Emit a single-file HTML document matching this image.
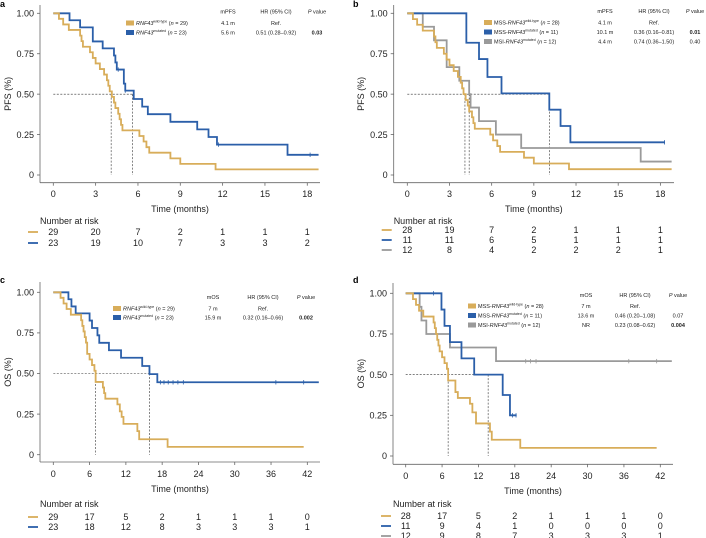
<!DOCTYPE html>
<html><head><meta charset="utf-8"><style>
html,body{margin:0;padding:0;background:#fff;}
svg{display:block;font-family:"Liberation Sans",sans-serif;}
</style></head><body>
<svg id="fig" width="706" height="538" viewBox="0 0 706 538" xmlns="http://www.w3.org/2000/svg"></svg>
<script>
// ---------- DATA ----------
const xTicksPFS = [0,3,6,9,12,15,18];
const xTicksOS = [0,6,12,18,24,30,36,42];
const yTicks = [0,0.25,0.5,0.75,1];
const yTickLabels = ["0","0.25","0.50","0.75","1.00"];

// Panel a
const aWtT = [0.4,0.7,1.1,1.9,2.0,2.1,2.6,2.8,3.0,3.3,3.6,3.8,3.9,4.0,4.15,4.3,4.4,4.6,4.7,4.8,4.9,6.1,6.4,6.6,6.8,8.3,9.0,11.5];
const aWtS = [0.966,0.931,0.897,0.862,0.828,0.793,0.759,0.724,0.690,0.655,0.621,0.586,0.552,0.517,0.483,0.448,0.414,0.379,0.345,0.310,0.276,0.241,0.207,0.172,0.138,0.103,0.069,0.035];
const aMutT = [1.15,1.9,2.8,3.5,4.3,4.4,4.5,5.0,5.1,5.7,6.3,6.7,8.3,10.2,11.0,11.6,16.6];
const aMutS = [0.957,0.913,0.826,0.783,0.739,0.696,0.652,0.565,0.522,0.470,0.423,0.376,0.329,0.282,0.235,0.188,0.125];
const aMutCens = [4.6,5.1,11.7,18.2];
const aMedians = [4.1,5.6];
const aRiskWt = [29,20,7,2,1,1,1];
const aRiskMut = [23,19,10,7,3,3,2];

// Panel b
const bWtT = [0.4,0.7,1.1,1.9,2.0,2.1,2.6,2.8,3.0,3.3,3.6,3.8,3.9,4.0,4.15,4.3,4.4,4.6,4.7,4.8,5.9,6.1,6.4,6.6,8.3,9.0,11.5];
const bWtS = [0.964,0.929,0.893,0.857,0.821,0.786,0.750,0.714,0.679,0.643,0.607,0.571,0.536,0.500,0.464,0.429,0.393,0.357,0.321,0.286,0.250,0.214,0.179,0.143,0.107,0.071,0.036];
const bMssMutT = [4.2,5.1,5.7,6.7,10.1,10.9,11.6];
const bMssMutS = [0.818,0.717,0.606,0.505,0.404,0.303,0.202];
const bMssMutCens = [18.3];
const bMsiT = [1.1,1.9,2.8,3.7,4.4,4.5,5.1,6.3,8.1,16.6];
const bMsiS = [0.917,0.833,0.667,0.583,0.500,0.417,0.333,0.250,0.167,0.083];
const bMedians = [4.1,10.1,4.4];
const bRiskWt = [28,19,7,2,1,1,1];
const bRiskMssMut = [11,11,6,5,1,1,1];
const bRiskMsi = [12,8,4,2,2,2,1];

// Panel c
const cWtT = [1.2,1.7,2.2,2.9,4.6,4.8,5.0,5.2,5.4,5.6,6.0,6.4,6.8,7.0,8.2,8.4,8.6,10.6,11.0,11.3,11.6,13.9,14.2,18.9];
const cWtS = [0.966,0.931,0.897,0.862,0.828,0.793,0.759,0.724,0.690,0.621,0.586,0.552,0.517,0.448,0.414,0.379,0.345,0.310,0.267,0.233,0.190,0.145,0.095,0.048];
const cMutT = [2.5,3.0,3.7,6.0,6.4,7.3,7.6,9.2,11.2,14.7,15.9,17.2];
const cMutS = [0.957,0.913,0.870,0.826,0.780,0.735,0.689,0.643,0.597,0.546,0.496,0.446];
const cMutCens = [17.7,18.3,19.0,19.8,20.6,21.5,36.8,41.4];
const cMedians = [7.0,15.9];
const cRiskWt = [29,17,5,2,1,1,1,0];
const cRiskMut = [23,18,12,8,3,3,3,1];

// Panel d
const dWtT = [1.2,1.7,2.2,2.9,4.6,4.8,5.0,5.2,5.4,5.6,6.0,6.4,6.8,7.0,8.2,8.6,10.6,11.0,11.6,13.9,14.2,18.9];
const dWtS = [0.964,0.929,0.893,0.857,0.821,0.786,0.750,0.714,0.679,0.643,0.607,0.571,0.536,0.464,0.393,0.357,0.321,0.268,0.200,0.150,0.100,0.050];
const dMssMutT = [5.9,6.4,7.3,9.2,11.3,16.0,17.2];
const dMssMutS = [0.9,0.8,0.7,0.6,0.5,0.375,0.25];
const dMssMutCens = [4.6,17.6,18.2];
const dMsiT = [2.3,2.6,3.4,7.3,14.9];
const dMsiS = [0.917,0.833,0.750,0.667,0.583];
const dMsiCens = [19.8,20.6,21.5,36.8,41.4];
const dMedians = [7.0,13.6];
const dRiskWt = [28,17,5,2,1,1,1,0];
const dRiskMssMut = [11,9,4,1,0,0,0,0];
const dRiskMsi = [12,9,8,7,3,3,3,1];

// ---------- DRAWING ----------
const NS = "http://www.w3.org/2000/svg";
const svg = document.getElementById('fig');
const YEL = "#d8ad5a", BLU = "#2b5fa9", GRY = "#9a9a9a", TXT = "#222";
const FS = 9;
function mk(tag, attrs, parent, text){
  const e = document.createElementNS(NS, tag);
  for (const k in attrs) e.setAttribute(k, attrs[k]);
  if (text !== undefined) e.textContent = text;
  (parent || svg).appendChild(e);
  return e;
}
function scales(P){
  return { x: t => P.x0 + t * P.kx, y: s => P.yb + (P.yt - P.yb) * s };
}
function drawAxes(P, ticks, yLabel, letter){
  const g = mk('g', {});
  
  
  const {x, y} = scales(P);
  mk('line', {x1:P.ax, y1:P.atop, x2:P.ax, y2:P.ab, stroke:"#666", 'stroke-width':0.8}, g);
  mk('line', {x1:P.ax, y1:P.ab, x2:P.ar, y2:P.ab, stroke:"#666", 'stroke-width':0.8}, g);
  yTicks.forEach((v, i) => {
    mk('line', {x1:P.ax-3, y1:y(v), x2:P.ax, y2:y(v), stroke:"#666", 'stroke-width':0.8}, g);
    const t = mk('text', {x:P.ax-6, y:y(v)+3.2, 'font-size':FS, 'text-anchor':'end', fill:TXT}, g, yTickLabels[i]);
    
    
  });
  ticks.forEach(v => {
    mk('line', {x1:x(v), y1:P.ab, x2:x(v), y2:P.ab+3, stroke:"#666", 'stroke-width':0.8}, g);
    const t = mk('text', {x:x(v), y:P.xl, 'font-size':FS, 'text-anchor':'middle', fill:TXT}, g, String(v));
    
    
  });
  const xt = mk('text', {x:(P.ax+P.ar)/2, y:P.xl+15, 'font-size':FS, 'text-anchor':'middle', fill:TXT}, g, 'Time (months)');
  
  
  const cy = (P.atop+P.ab)/2;
  const yt = mk('text', {x:P.ylx, y:cy, 'font-size':FS, 'text-anchor':'middle', fill:TXT, transform:`rotate(-90 ${P.ylx} ${cy})`}, g, yLabel);
  
  
  const lt = mk('text', {x:P.lx, y:P.ly, 'font-size':9, 'font-weight':'bold', fill:'#000'}, g, letter);
  
  
}
function drawCurve(P, times, surv, end, color, cens, name){
  const {x, y} = scales(P);
  let d = `M${x(0)},${y(1)}`;
  for (let i = 0; i < times.length; i++){ d += ` H${x(times[i])} V${y(surv[i])}`; }
  d += ` H${x(end)}`;
  const p = mk('path', {d, fill:'none', stroke:color, 'stroke-width':1.8});
  
  
  (cens || []).forEach(c => {
    let s = 1;
    for (let i = 0; i < times.length; i++) if (times[i] <= c) s = surv[i];
    const m = mk('line', {x1:x(c), y1:y(s)-2.2, x2:x(c), y2:y(s)+2.2, stroke:color, 'stroke-width':0.8});
    
    
  });
}
function drawMedians(P, meds){
  const {x, y} = scales(P);
  const mx = Math.max(...meds);
  const h = mk('line', {x1:x(0), y1:y(0.5), x2:x(mx), y2:y(0.5), stroke:'#333', 'stroke-width':0.6, 'stroke-dasharray':'2,1.5'});
  
  
  meds.forEach(m => {
    const v = mk('line', {x1:x(m), y1:y(0.5), x2:x(m), y2:y(0), stroke:'#333', 'stroke-width':0.6, 'stroke-dasharray':'2,1.5'});
    
    
  });
}
function drawRisk(P, ticks, rows, colors, rowY){
  const {x} = scales(P);
  const h = mk('text', {x:P.ax, y:P.rh, 'font-size':FS, fill:TXT}, undefined, 'Number at risk');
  
  
  rows.forEach((r, i) => {
    const ln = mk('line', {x1:28, x2:38, y1:rowY[i]-3, y2:rowY[i]-3, stroke:colors[i], 'stroke-width':1.8, transform:`translate(${P.ax-40} 0)`});
    
    
    r.forEach((v, j) => {
      const t = mk('text', {x:x(ticks[j]), y:rowY[i], 'font-size':FS, 'text-anchor':'middle', fill:TXT}, undefined, String(v));
      
      
    });
  });
}
function drawLegend(L, header, rows){
  const g = mk('g', {'font-size':5.5, fill:TXT});
  
  
  mk('text', {x:L.mc, y:L.hy, 'text-anchor':'middle'}, g, header);
  mk('text', {x:L.hc, y:L.hy, 'text-anchor':'middle'}, g, 'HR (95% CI)');
  const pv = mk('text', {x:L.pc, y:L.hy, 'text-anchor':'middle'}, g);
  mk('tspan', {'font-style':'italic'}, pv, 'P');
  mk('tspan', {}, pv, ' value');
  rows.forEach((r, i) => {
    const yy = L.ry[i];
    const sw = mk('rect', {x:L.sx, y:yy-4.5, width:8, height:5, fill:r.c}, g);
    
    
    const t = mk('text', {x:L.sx+10, y:yy}, g);
    
    
    if (r.pre) mk('tspan', {}, t, r.pre);
    mk('tspan', {'font-style':'italic'}, t, 'RNF43');
    mk('tspan', {'font-size':3.5, dy:-2.5}, t, r.sup);
    mk('tspan', {dy:2.5}, t, ' (');
    mk('tspan', {'font-style':'italic'}, t, 'n');
    mk('tspan', {}, t, ' = ' + r.n + ')');
    mk('text', {x:L.mc, y:yy, 'text-anchor':'middle'}, g, r.m);
    mk('text', {x:L.hc, y:yy, 'text-anchor':'middle'}, g, r.hr);
    mk('text', {x:L.pc, y:yy, 'text-anchor':'middle', 'font-weight':r.b?'bold':'normal'}, g, r.p);
  });
}

// Panel geometry
const PA = {x0:53.3, kx:14.11, yt:13.3, yb:175, ax:40, ar:320, atop:5, ab:182.7, xl:197, ylx:11, lx:0, ly:7, rh:224};
const PB = {x0:407.3, kx:14.06, yt:13.3, yb:175, ax:393.7, ar:674, atop:5, ab:182.7, xl:197, ylx:364, lx:353, ly:7, rh:224};
const PC = {x0:53.3, kx:6.048, yt:292.3, yb:454.7, ax:40, ar:320, atop:282, ab:462, xl:477, ylx:11, lx:0, ly:283, rh:507};
const PD = {x0:405.7, kx:6.062, yt:293.3, yb:456, ax:393, ar:673, atop:283, ab:464.3, xl:479, ylx:364, lx:353, ly:283, rh:507};

// a
drawAxes(PA, xTicksPFS, 'PFS (%)', 'a');
drawMedians(PA, aMedians);
drawCurve(PA, aMutT, aMutS, 18.8, BLU, aMutCens, 'curve-a-mutated');
drawCurve(PA, aWtT, aWtS, 18.8, YEL, [], 'curve-a-wild-type');
drawLegend({sx:126, mc:228, hc:276, pc:317, hy:13.5, ry:[25,34.5]}, 'mPFS', [
  {c:YEL, sup:'wild-type', n:29, m:'4.1 m', hr:'Ref.', p:''},
  {c:BLU, sup:'mutated', n:23, m:'5.6 m', hr:'0.51 (0.28–0.92)', p:'0.03', b:true}]);
drawRisk(PA, xTicksPFS, [aRiskWt, aRiskMut], [YEL, BLU], [235, 246]);

// b
drawAxes(PB, xTicksPFS, 'PFS (%)', 'b');
drawMedians(PB, bMedians);
drawCurve(PB, bMsiT, bMsiS, 18.8, GRY, [], 'curve-b-msi-mutated');
drawCurve(PB, bMssMutT, bMssMutS, 18.3, BLU, bMssMutCens, 'curve-b-mss-mutated');
drawCurve(PB, bWtT, bWtS, 18.8, YEL, [], 'curve-b-mss-wild-type');
drawLegend({sx:484, mc:605, hc:654, pc:695, hy:13, ry:[24.5,34,43.5]}, 'mPFS', [
  {c:YEL, pre:'MSS-', sup:'wild-type', n:28, m:'4.1 m', hr:'Ref.', p:''},
  {c:BLU, pre:'MSS-', sup:'mutated', n:11, m:'10.1 m', hr:'0.36 (0.16–0.81)', p:'0.01', b:true},
  {c:GRY, pre:'MSI-', sup:'mutated', n:12, m:'4.4 m', hr:'0.74 (0.36–1.50)', p:'0.40'}]);
drawRisk(PB, xTicksPFS, [bRiskWt, bRiskMssMut, bRiskMsi], [YEL, BLU, GRY], [233, 243, 253]);

// c
drawAxes(PC, xTicksOS, 'OS (%)', 'c');
drawMedians(PC, cMedians);
drawCurve(PC, cMutT, cMutS, 43.9, BLU, cMutCens, 'curve-c-mutated');
drawCurve(PC, cWtT, cWtS, 41.4, YEL, [], 'curve-c-wild-type');
drawLegend({sx:113, mc:213, hc:263, pc:306, hy:299, ry:[310.5,319.5]}, 'mOS', [
  {c:YEL, sup:'wild-type', n:29, m:'7 m', hr:'Ref.', p:''},
  {c:BLU, sup:'mutated', n:23, m:'15.9 m', hr:'0.32 (0.16–0.66)', p:'0.002', b:true}]);
drawRisk(PC, xTicksOS, [cRiskWt, cRiskMut], [YEL, BLU], [520, 530]);

// d
drawAxes(PD, xTicksOS, 'OS (%)', 'd');
drawMedians(PD, dMedians);
drawCurve(PD, dMsiT, dMsiS, 43.9, GRY, dMsiCens, 'curve-d-msi-mutated');
drawCurve(PD, dMssMutT, dMssMutS, 18.3, BLU, dMssMutCens, 'curve-d-mss-mutated');
drawCurve(PD, dWtT, dWtS, 41.4, YEL, [], 'curve-d-mss-wild-type');
drawLegend({sx:468, mc:586, hc:635, pc:678, hy:297, ry:[308,317.5,327]}, 'mOS', [
  {c:YEL, pre:'MSS-', sup:'wild-type', n:28, m:'7 m', hr:'Ref.', p:''},
  {c:BLU, pre:'MSS-', sup:'mutated', n:11, m:'13.6 m', hr:'0.46 (0.20–1.08)', p:'0.07'},
  {c:GRY, pre:'MSI-', sup:'mutated', n:12, m:'NR', hr:'0.23 (0.08–0.62)', p:'0.004', b:true}]);
drawRisk(PD, xTicksOS, [dRiskWt, dRiskMssMut, dRiskMsi], [YEL, BLU, GRY], [519, 529, 539]);
</script>
</body></html>
